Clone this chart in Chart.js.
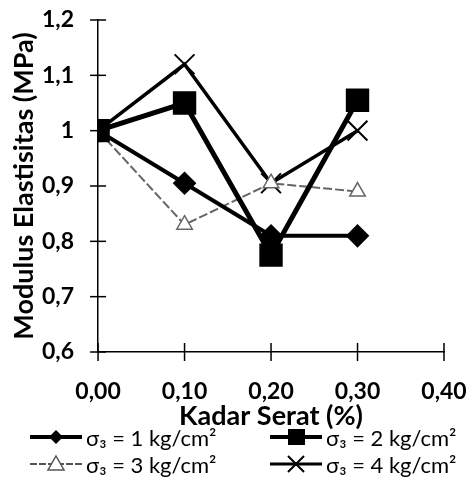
<!DOCTYPE html>
<html>
<head>
<meta charset="utf-8">
<script src="https://cdn.jsdelivr.net/npm/chart.js@4.4.1/dist/chart.umd.min.js"></script>
<style>
  html, body { margin: 0; padding: 0; background: #fff; }
  #wrap { position: relative; width: 468px; height: 487px; overflow: hidden; }
  #plot { position: absolute; left: 0; top: 0; width: 468px; height: 430px; }
  #legend { position: absolute; left: 0; top: 424px; width: 468px; font-family: Lato, "Liberation Sans", sans-serif; font-size: 22px; color: #000; }
  .item { position: absolute; height: 26px; display: flex; align-items: center; white-space: nowrap; }
  .item canvas { margin-right: 4px; }
</style>
</head>
<body>
<div id="wrap">
  <div id="plot"><canvas id="chart"></canvas></div>
  <div id="legend"></div>
</div>
<script>
// Kadar serat (%) on x, modulus elastisitas (MPa) on y
const kadarSerat = [0.00, 0.10, 0.20, 0.30];
const sigma1 = [1.00, 0.905, 0.81, 0.81];
const sigma2 = [1.00, 1.05, 0.775, 1.055];
const sigma3 = [1.00, 0.83, 0.905, 0.89];
const sigma4 = [1.00, 1.12, 0.905, 1.00];
const seriesLabels = ['σ₃ = 1 kg/cm²', 'σ₃ = 2 kg/cm²', 'σ₃ = 3 kg/cm²', 'σ₃ = 4 kg/cm²'];
const xTitle = 'Kadar Serat (%)';
const yTitle = 'Modulus Elastisitas (MPa)';

const FONT = 'Lato, "Liberation Sans", sans-serif';

function toPoints(values) {
    return kadarSerat.map((x, i) => ({ x: x, y: values[i] }));
}

function decimalComma(v, digits) {
    return v.toFixed(digits).replace('.', ',');
}

// legend symbols: line with the marker in the middle
const symbolDrawers = [
    g => {
        g.strokeStyle = '#000'; g.lineWidth = 4;
        g.beginPath(); g.moveTo(0, 12); g.lineTo(52, 12); g.stroke();
        g.fillStyle = '#000'; g.beginPath();
        g.moveTo(26, 5); g.lineTo(33, 12); g.lineTo(26, 19); g.lineTo(19, 12); g.closePath(); g.fill();
    },
    g => {
        g.strokeStyle = '#000'; g.lineWidth = 4;
        g.beginPath(); g.moveTo(0, 12); g.lineTo(52, 12); g.stroke();
        g.fillStyle = '#000'; g.fillRect(18, 4, 17, 16);
    },
    g => {
        g.strokeStyle = '#555'; g.lineWidth = 2; g.setLineDash([7, 2]);
        g.beginPath(); g.moveTo(0, 12); g.lineTo(52, 12); g.stroke();
        g.setLineDash([]); g.fillStyle = '#fff'; g.lineWidth = 1.5;
        g.beginPath(); g.moveTo(26, 4); g.lineTo(34, 18); g.lineTo(18, 18); g.closePath(); g.fill(); g.stroke();
    },
    g => {
        g.strokeStyle = '#000'; g.lineWidth = 3;
        g.beginPath(); g.moveTo(0, 12); g.lineTo(52, 12); g.stroke();
        g.lineWidth = 2;
        g.beginPath(); g.moveTo(18, 4); g.lineTo(34, 20); g.moveTo(34, 4); g.lineTo(18, 20); g.stroke();
    }
];
const legendPos = [[30, 0], [270, 0], [30, 27], [270, 27]];

let legendEl = document.getElementById('legend');
seriesLabels.forEach((label, i) => {
    let item = document.createElement('div');
    item.className = 'item';
    item.style.left = legendPos[i][0] + 'px';
    item.style.top = legendPos[i][1] + 'px';
    let c = document.createElement('canvas');
    c.width = 52; c.height = 24;
    symbolDrawers[i](c.getContext('2d'));
    let span = document.createElement('span');
    span.textContent = label;
    item.appendChild(c);
    item.appendChild(span);
    legendEl.appendChild(item);
});

// tick marks that cross the axis lines
const crossTicks = {
    id: 'crossTicks',
    beforeDatasetsDraw(chart) {
        let ctx = chart.ctx;
        let x = chart.scales.x, y = chart.scales.y;
        let base = y.getPixelForValue(0.6), left = x.getPixelForValue(0);
        ctx.save();
        ctx.strokeStyle = '#000';
        ctx.lineWidth = 1.5;
        x.ticks.forEach(t => {
            let px = x.getPixelForValue(t.value);
            ctx.beginPath(); ctx.moveTo(px, base - 9); ctx.lineTo(px, base + 9); ctx.stroke();
        });
        y.ticks.forEach(t => {
            let py = y.getPixelForValue(t.value);
            ctx.beginPath(); ctx.moveTo(left - 8, py); ctx.lineTo(left + 8, py); ctx.stroke();
        });
        ctx.restore();
    }
};

new Chart(document.getElementById('chart').getContext('2d'), {
    type: 'line',
    data: {
        datasets: [
            {
                label: seriesLabels[0], data: toPoints(sigma1),
                borderColor: '#000', backgroundColor: '#000', borderWidth: 4,
                pointStyle: 'rectRot', pointRadius: 9, pointBackgroundColor: '#000', pointBorderColor: '#000'
            },
            {
                label: seriesLabels[1], data: toPoints(sigma2),
                borderColor: '#000', backgroundColor: '#000', borderWidth: 5,
                pointStyle: 'rect', pointRadius: 13, pointBackgroundColor: '#000', pointBorderColor: '#000'
            },
            {
                label: seriesLabels[2], data: toPoints(sigma3),
                borderColor: '#666', backgroundColor: '#fff', borderWidth: 2, borderDash: [9, 3],
                pointStyle: 'triangle', pointRadius: 9, pointBackgroundColor: '#fff', pointBorderColor: '#666',
                pointBorderWidth: 1.5
            },
            {
                label: seriesLabels[3], data: toPoints(sigma4),
                borderColor: '#000', backgroundColor: '#000', borderWidth: 3.5,
                pointStyle: 'crossRot', pointRadius: 14, pointBorderColor: '#000', pointBorderWidth: 2
            }
        ]
    },
    options: {
        responsive: true,
        maintainAspectRatio: false,
        animation: false,
        layout: { padding: { top: 20, left: 11, right: 24, bottom: 0 } },
        plugins: {
            tooltip: { enabled: false },
            legend: { display: false }
        },
        scales: {
            x: {
                type: 'linear', min: 0, max: 0.4,
                border: { color: '#000', width: 1.5 },
                grid: { drawOnChartArea: false, tickColor: 'rgba(0,0,0,0)', tickLength: 28 },
                ticks: {
                    stepSize: 0.1, padding: 0, color: '#000', maxRotation: 0, autoSkip: false,
                    font: { family: FONT, size: 23, weight: 'bold', lineHeight: 1 },
                    callback: v => decimalComma(v, 2)
                },
                title: {
                    display: true, text: xTitle, color: '#000', padding: 0,
                    font: { family: FONT, size: 27, weight: 'bold', lineHeight: 1 }
                }
            },
            y: {
                min: 0.6, max: 1.2,
                border: { color: '#000', width: 1.5 },
                grid: { drawOnChartArea: false, tickColor: 'rgba(0,0,0,0)', tickLength: 24 },
                ticks: {
                    stepSize: 0.1, padding: 0, color: '#000',
                    font: { family: FONT, size: 23, weight: 'bold', lineHeight: 1 },
                    callback: v => {
                        let r = Math.round(v * 10) / 10;
                        return String(r).replace('.', ',');
                    }
                },
                title: {
                    display: true, text: yTitle, color: '#000', padding: { top: 0, bottom: 4 },
                    font: { family: FONT, size: 27, weight: 'bold', lineHeight: 1 }
                }
            }
        }
    },
    plugins: [crossTicks]
});
</script>
</body>
</html>
